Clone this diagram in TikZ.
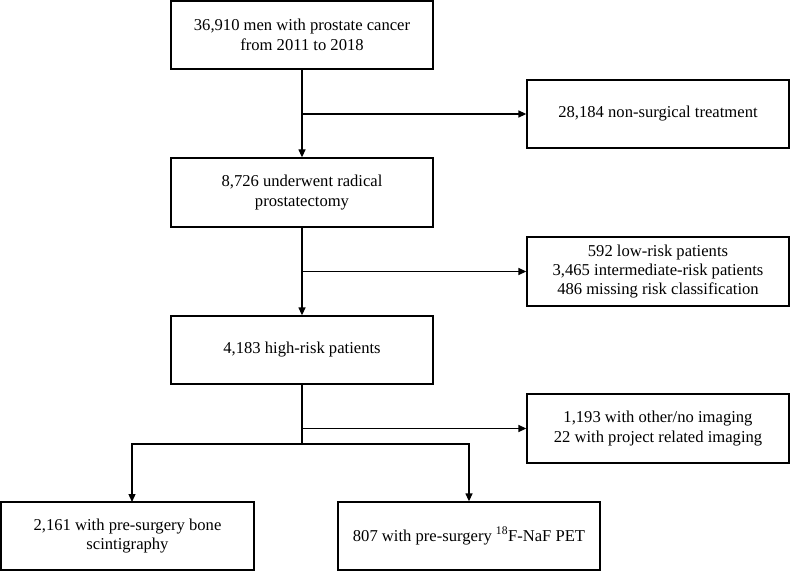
\documentclass[tikz,border=0pt]{standalone}
\usepackage{fontspec}
\setmainfont{Liberation Serif}
\usetikzlibrary{arrows.meta}
\begin{document}
\begin{tikzpicture}[x=1pt,y=-1pt,
  box/.style={draw, line width=1.3pt, minimum width=262pt, minimum height=68pt,
    align=center, inner sep=0pt, font=\fontsize{16.6}{19.4}\selectfont},
  arr/.style={line width=1.3pt, -{Triangle[length=8pt,width=7pt]}},
  ln/.style={line width=1.3pt}]
\useasboundingbox[fill=white] (0,0) rectangle (790,572);
\node[box] (b1) at (302,35) {36,910 men with prostate cancer\\from 2011 to 2018};
\node[box] (r1) at (658,114) {28,184 non-surgical treatment};
\node[box, minimum height=69pt] (b2) at (302,192.5) {8,726 underwent radical\\prostatectomy};
\node[box, minimum height=69pt] (r2) at (658,271.5) {592 low-risk patients\\3,465 intermediate-risk patients\\486 missing risk classification};
\node[box] (b3) at (302,350) {4,183 high-risk patients};
\node[box, minimum height=69pt] (r3) at (658,428.5) {1,193 with other/no imaging\\22 with project related imaging};
\node[box, minimum width=253pt] (bl) at (127.5,536) {2,161 with pre-surgery bone\\scintigraphy};
\node[box] (br) at (469,536) {807 with pre-surgery \textsuperscript{18}F-NaF PET};
\coordinate (j1) at (b1.south |- r1.west);
\coordinate (j2) at (b2.south |- r2.west);
\coordinate (j3) at (b3.south |- r3.west);
\coordinate (s) at (302,444);
\coordinate (blt) at (132,502);
\draw[arr] (b1.south) -- (b2.north);
\draw[arr] (j1) -- (r1.west);
\draw[arr] (b2.south) -- (b3.north);
\draw[arr] (j2) -- (r2.west);
\draw[ln] (b3.south) -- (s);
\draw[arr] (j3) -- (r3.west);
\draw[arr] (s) -| (blt);
\draw[arr] (s) -| (br.north);
\end{tikzpicture}
\end{document}
